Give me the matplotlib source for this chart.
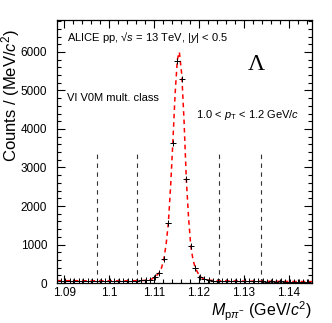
import matplotlib
matplotlib.use("Agg")
import matplotlib.pyplot as plt
from matplotlib.ticker import MultipleLocator

plt.rcParams['font.family'] = ['Liberation Sans', 'DejaVu Sans']
plt.rcParams['mathtext.fontset'] = 'custom'
plt.rcParams['mathtext.rm'] = 'Liberation Sans'
plt.rcParams['mathtext.it'] = 'Liberation Sans:italic'
plt.rcParams['mathtext.bf'] = 'Liberation Sans:bold'

# invariant mass bins (GeV/c^2), 1 MeV wide
mass = [1.0892 + 0.001 * i for i in range(56)]
counts = [62, 58, 55, 60, 52, 57, 54, 50, 56, 53, 49, 55, 51, 58, 52, 56, 60, 62, 68, 72,
          80, 150, 260, 620, 1560, 3640, 5770, 5300, 2700, 960, 390, 160, 100, 70,
          60, 55, 52, 48, 50, 46, 44, 47, 42, 45, 40, 43, 38, 41, 37, 40, 36, 39, 35, 37, 33, 35]

# fit curve
fit_x = [1.0884, 1.095, 1.100, 1.104, 1.1072, 1.1082, 1.1092, 1.1102, 1.1112, 1.1117,
         1.1122, 1.1127, 1.1132, 1.1137, 1.1142, 1.1147, 1.1152, 1.11565, 1.1162,
         1.1167, 1.1172, 1.1177, 1.1182, 1.1187, 1.1192, 1.1202, 1.1212, 1.1222,
         1.124, 1.130, 1.138, 1.1452]
fit_y = [62, 58, 55, 56, 62, 70, 85, 150, 270, 400, 620, 1000, 1560, 2500, 3640, 4900,
         5800, 6000, 5400, 4200, 2700, 1700, 960, 600, 390, 170, 100, 75, 58, 48, 42, 36]

# side-band / signal region limits
sb_lines = [1.0973, 1.1062, 1.1244, 1.1338]
sb_top = 3400

fig = plt.figure(figsize=(3.32, 3.23), dpi=100)
ax = fig.add_axes([0.1717, 0.1238, 0.7681, 0.8142])

for xl in sb_lines:
    ax.plot([xl, xl], [0, sb_top], color='#333333', lw=0.8, ls=(0, (4, 4)))

ax.plot(fit_x, fit_y, color='red', lw=1.1, ls=(0, (3, 2.5)))
ax.errorbar(mass, counts, xerr=0.0005, fmt='+', color='black', ms=5, lw=0.7,
            mew=0.7, capsize=0)

ax.set_xlim(1.0884, 1.1452)
ax.set_ylim(0, 6830)
ax.xaxis.set_minor_locator(MultipleLocator(0.002))
ax.yaxis.set_major_locator(MultipleLocator(1000))
ax.yaxis.set_minor_locator(MultipleLocator(200))
ax.set_xticks([1.09, 1.10, 1.11, 1.12, 1.13, 1.14])
ax.set_xticklabels(['1.09', '1.1', '1.11', '1.12', '1.13', '1.14'])
ax.tick_params(which='both', direction='in', top=True, right=True, labelsize=8.5)
ax.tick_params(which='major', length=6, width=0.8)
ax.tick_params(which='minor', length=3, width=0.8)
ax.tick_params(axis='y', pad=7)
ax.tick_params(axis='x', pad=3)
for s in ax.spines.values():
    s.set_linewidth(0.9)

fig.text(11 / 332, 0.706, r'Counts / (MeV/$c^{2}$)', fontsize=12, rotation=90,
         ha='center', va='center')
fig.text(0.94, 0.02, r'$M_{\mathrm{p}\pi^{-}}$ (GeV/$c^{2}$)', fontsize=11.5,
         ha='right', va='baseline')

ax.text(0.04, 0.935, 'ALICE pp, \u221a$s$ = 13 TeV, $|y|$ < 0.5', transform=ax.transAxes,
        fontsize=8, va='center')
ax.text(0.04, 0.705, 'VI V0M mult. class', transform=ax.transAxes, fontsize=8, va='center')
ax.text(0.95, 0.64, r'1.0 < $p_{\mathrm{T}}$ < 1.2 GeV/$c$', transform=ax.transAxes,
        fontsize=8, va='center', ha='right')
ax.text(0.78, 0.832, '\u039b', transform=ax.transAxes, fontsize=17, va='center',
        ha='center', family='Liberation Serif')

fig.savefig('out.png', dpi=100)
